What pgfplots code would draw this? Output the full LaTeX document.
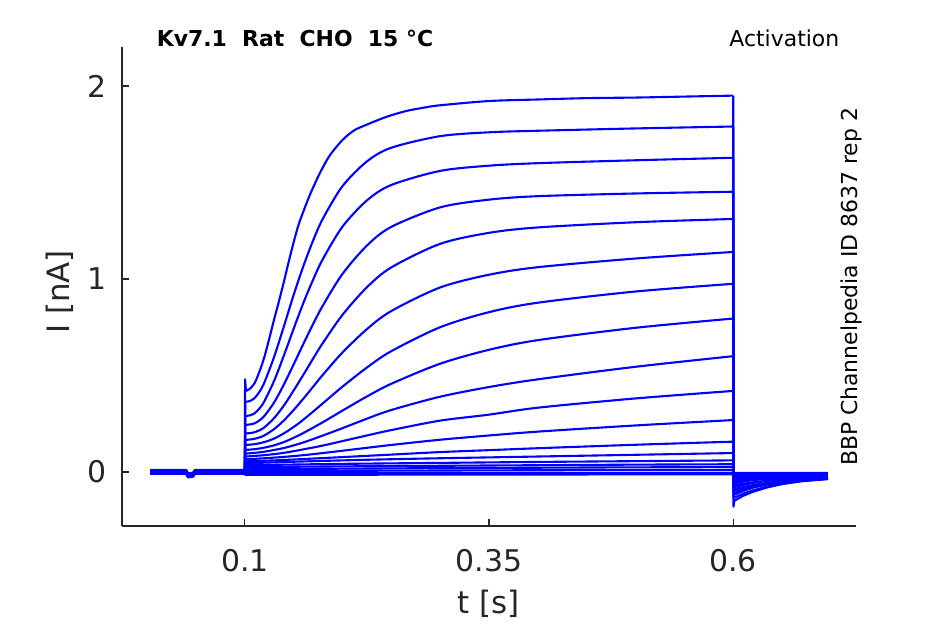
\documentclass[border=0pt]{standalone}
\usepackage{fontspec}
\setmainfont{DejaVu Sans}
\usepackage{pgfplots}
\pgfplotsset{compat=1.18}
\definecolor{axgray}{RGB}{38,38,38}
\definecolor{trblue}{RGB}{0,0,255}
\pgfplotsset{tr/.style={trblue, line width=1.05bp, line join=round, mark=none},
  trs/.style={tr, smooth, tension=0.5}}
\begin{document}
\begin{tikzpicture}
\useasboundingbox (0,0) rectangle (472.5bp,312bp);
\begin{axis}[
  at={(61bp,49bp)}, anchor=south west,
  scale only axis, width=367bp, height=239.5bp,
  xmin=-0.0257, xmax=0.7257, ymin=-0.28, ymax=2.202,
  axis x line*=bottom, axis y line*=left,
  axis line style={axgray, line width=0.6bp, -},
  tick align=inside, major tick length=3.5bp,
  tick style={axgray, line width=0.6bp},
  xtick={0.1,0.35,0.6}, xticklabels={0.1,0.35,0.6},
  ytick={0,1,2}, yticklabels={0,1,2},
  xticklabel style={font=\fontsize{15}{18}\selectfont, text=axgray, inner sep=0pt, anchor=north, yshift=-11.5bp},
  yticklabel style={font=\fontsize{15}{18}\selectfont, text=axgray, inner sep=0pt, anchor=east, xshift=-7.5bp},
  xlabel={t [s]}, ylabel={I [nA]},
  xlabel style={at={(axis description cs:0.5,-0.1618)}, anchor=center, inner sep=0pt, font=\fontsize{15.5}{18}\selectfont, text=axgray},
  ylabel style={at={(axis description cs:-0.0845,0.4885)}, anchor=center, inner sep=0pt, font=\fontsize{15.5}{18}\selectfont, text=axgray},
  clip=true,
]
% trace 1
\addplot[tr] coordinates {(0.003,0.008)(0.04,0.008)(0.042,-0.010)(0.047,-0.006)(0.049,0.008)(0.1,0.008)(0.1003,0.48)(0.1012,0.42)};
\addplot[trs] coordinates {(0.1012,0.42)(0.105,0.43)(0.11,0.46)(0.115,0.52)(0.12,0.595)(0.125,0.69)(0.13,0.79)(0.135,0.885)(0.14,0.985)(0.145,1.09)(0.15,1.19)(0.155,1.28)(0.16,1.35)(0.167,1.44)(0.177,1.55)(0.187,1.64)(0.2,1.72)(0.212,1.77)(0.225,1.80)(0.245,1.84)(0.265,1.87)(0.286,1.89)(0.3,1.90)(0.35,1.922)(0.4,1.93)(0.45,1.937)(0.5,1.94)(0.55,1.945)(0.6,1.95)};
\addplot[tr] coordinates {(0.6,1.95)(0.6003,-0.18)(0.601,-0.15)(0.61,-0.124)(0.62,-0.103)(0.635,-0.080)(0.65,-0.063)(0.67,-0.047)(0.697,-0.034)};
% trace 2
\addplot[tr] coordinates {(0.003,-0.006)(0.04,-0.006)(0.042,-0.024)(0.047,-0.020)(0.049,-0.006)(0.1,-0.006)(0.1005,0.364)};
\addplot[trs] coordinates {(0.1005,0.364)(0.105,0.367)(0.11,0.383)(0.115,0.415)(0.12,0.463)(0.13,0.596)(0.14,0.754)(0.15,0.917)(0.16,1.067)(0.17,1.200)(0.18,1.313)(0.2,1.481)(0.225,1.609)(0.25,1.680)(0.3,1.740)(0.35,1.760)(0.4,1.768)(0.5,1.780)(0.6,1.790)};
\addplot[tr] coordinates {(0.6,1.790)(0.6004,-0.135)(0.61,-0.113)(0.62,-0.096)(0.635,-0.075)(0.65,-0.061)(0.67,-0.048)(0.697,-0.037)};
% trace 3
\addplot[tr] coordinates {(0.003,0.002)(0.04,0.002)(0.042,-0.016)(0.047,-0.012)(0.049,0.002)(0.1,0.002)(0.1005,0.29)};
\addplot[trs] coordinates {(0.1005,0.29)(0.105,0.293)(0.11,0.304)(0.115,0.329)(0.12,0.366)(0.13,0.472)(0.14,0.603)(0.15,0.742)(0.16,0.876)(0.17,0.997)(0.18,1.104)(0.2,1.271)(0.225,1.407)(0.25,1.487)(0.3,1.560)(0.35,1.587)(0.4,1.600)(0.5,1.615)(0.6,1.628)};
\addplot[tr] coordinates {(0.6,1.628)(0.6004,-0.12)(0.61,-0.099)(0.62,-0.082)(0.635,-0.063)(0.65,-0.050)(0.67,-0.037)(0.697,-0.026)};
% trace 4
\addplot[tr] coordinates {(0.003,-0.01)(0.04,-0.01)(0.042,-0.028)(0.047,-0.024)(0.049,-0.01)(0.1,-0.01)(0.1005,0.244)};
\addplot[trs] coordinates {(0.1005,0.244)(0.105,0.246)(0.11,0.252)(0.115,0.267)(0.12,0.290)(0.13,0.360)(0.14,0.453)(0.15,0.557)(0.16,0.664)(0.17,0.767)(0.18,0.863)(0.2,1.026)(0.225,1.173)(0.25,1.270)(0.3,1.371)(0.35,1.411)(0.4,1.429)(0.5,1.443)(0.6,1.452)};
\addplot[tr] coordinates {(0.6,1.452)(0.6004,-0.11)(0.61,-0.093)(0.62,-0.079)(0.635,-0.064)(0.65,-0.053)(0.67,-0.043)(0.697,-0.034)};
% trace 5
\addplot[tr] coordinates {(0.003,0.005)(0.04,0.005)(0.042,-0.013)(0.047,-0.009)(0.049,0.005)(0.1,0.005)(0.1005,0.2)};
\addplot[trs] coordinates {(0.1005,0.2)(0.105,0.201)(0.11,0.206)(0.115,0.216)(0.12,0.231)(0.13,0.279)(0.14,0.344)(0.15,0.422)(0.16,0.504)(0.17,0.588)(0.18,0.669)(0.2,0.814)(0.225,0.957)(0.25,1.060)(0.3,1.182)(0.35,1.239)(0.4,1.267)(0.5,1.294)(0.6,1.311)};
\addplot[tr] coordinates {(0.6,1.311)(0.6004,-0.10)(0.61,-0.084)(0.62,-0.071)(0.635,-0.057)(0.65,-0.046)(0.67,-0.037)(0.697,-0.029)};
% trace 6
\addplot[tr] coordinates {(0.003,-0.003)(0.04,-0.003)(0.042,-0.021)(0.047,-0.017)(0.049,-0.003)(0.1,-0.003)(0.1005,0.166)};
\addplot[trs] coordinates {(0.1005,0.166)(0.105,0.168)(0.11,0.172)(0.115,0.179)(0.12,0.189)(0.13,0.222)(0.14,0.267)(0.15,0.321)(0.16,0.380)(0.17,0.442)(0.18,0.504)(0.2,0.619)(0.225,0.740)(0.25,0.834)(0.3,0.956)(0.35,1.022)(0.4,1.061)(0.5,1.106)(0.6,1.140)};
\addplot[tr] coordinates {(0.6,1.140)(0.6004,-0.09)(0.61,-0.078)(0.62,-0.068)(0.635,-0.058)(0.65,-0.050)(0.67,-0.043)(0.697,-0.036)};
% trace 7
\addplot[tr] coordinates {(0.003,0.01)(0.04,0.01)(0.042,-0.008)(0.047,-0.004)(0.049,0.01)(0.1,0.01)(0.1005,0.14)};
\addplot[trs] coordinates {(0.1005,0.14)(0.11,0.144)(0.12,0.155)(0.13,0.173)(0.14,0.200)(0.15,0.233)(0.16,0.271)(0.18,0.356)(0.2,0.442)(0.225,0.541)(0.25,0.626)(0.3,0.750)(0.35,0.828)(0.4,0.877)(0.5,0.935)(0.6,0.975)};
\addplot[tr] coordinates {(0.6,0.975)(0.6004,-0.08)(0.61,-0.067)(0.62,-0.057)(0.635,-0.045)(0.65,-0.036)(0.67,-0.029)(0.697,-0.022)};
% trace 8
\addplot[tr] coordinates {(0.003,-0.008)(0.04,-0.008)(0.042,-0.026)(0.047,-0.022)(0.049,-0.008)(0.1,-0.008)(0.1005,0.114)};
\addplot[trs] coordinates {(0.1005,0.114)(0.11,0.118)(0.12,0.126)(0.13,0.138)(0.14,0.155)(0.15,0.177)(0.16,0.202)(0.18,0.258)(0.2,0.318)(0.225,0.391)(0.25,0.457)(0.3,0.561)(0.35,0.633)(0.4,0.683)(0.5,0.747)(0.6,0.795)};
\addplot[tr] coordinates {(0.6,0.795)(0.6004,-0.07)(0.61,-0.061)(0.62,-0.054)(0.635,-0.046)(0.65,-0.040)(0.67,-0.034)(0.697,-0.030)};
% trace 9
\addplot[tr] coordinates {(0.003,0)(0.04,0)(0.042,-0.018)(0.047,-0.014)(0.049,0)(0.1,0)(0.1005,0.095)};
\addplot[trs] coordinates {(0.1005,0.095)(0.11,0.099)(0.12,0.105)(0.14,0.124)(0.16,0.153)(0.18,0.189)(0.2,0.227)(0.225,0.276)(0.25,0.321)(0.3,0.390)(0.35,0.440)(0.4,0.480)(0.5,0.545)(0.6,0.600)};
\addplot[tr] coordinates {(0.6,0.600)(0.6004,-0.06)(0.61,-0.050)(0.62,-0.042)(0.635,-0.033)(0.65,-0.026)(0.67,-0.021)(0.697,-0.015)};
% trace 10
\addplot[tr] coordinates {(0.003,0.006)(0.04,0.006)(0.042,-0.012)(0.047,-0.008)(0.049,0.006)(0.1,0.006)(0.1005,0.08)};
\addplot[trs] coordinates {(0.1005,0.08)(0.12,0.087)(0.14,0.099)(0.16,0.117)(0.18,0.137)(0.2,0.160)(0.225,0.189)(0.25,0.217)(0.3,0.266)(0.35,0.297)(0.4,0.333)(0.5,0.381)(0.6,0.42)};
\addplot[tr] coordinates {(0.6,0.42)(0.6004,-0.05)(0.61,-0.044)(0.62,-0.039)(0.635,-0.034)(0.65,-0.030)(0.67,-0.026)(0.697,-0.023)};
% trace 11
\addplot[tr] coordinates {(0.003,-0.005)(0.04,-0.005)(0.042,-0.023)(0.047,-0.019)(0.049,-0.005)(0.1,-0.005)(0.1005,0.065)};
\addplot[trs] coordinates {(0.1005,0.065)(0.12,0.071)(0.14,0.078)(0.16,0.087)(0.18,0.098)(0.2,0.110)(0.25,0.140)(0.3,0.167)(0.35,0.189)(0.4,0.209)(0.5,0.241)(0.6,0.269)};
\addplot[tr] coordinates {(0.6,0.269)(0.6004,-0.045)(0.61,-0.042)(0.62,-0.040)(0.635,-0.037)(0.65,-0.035)(0.67,-0.033)(0.697,-0.032)};
% trace 12
\addplot[tr] coordinates {(0.003,0.003)(0.04,0.003)(0.042,-0.015)(0.047,-0.011)(0.049,0.003)(0.1,0.003)(0.1005,0.055)};
\addplot[trs] coordinates {(0.1005,0.055)(0.12,0.058)(0.14,0.062)(0.16,0.067)(0.18,0.072)(0.2,0.077)(0.25,0.090)(0.3,0.103)(0.35,0.113)(0.4,0.123)(0.5,0.141)(0.6,0.157)};
\addplot[tr] coordinates {(0.6,0.157)(0.6004,-0.04)(0.61,-0.035)(0.62,-0.031)(0.635,-0.026)(0.65,-0.023)(0.67,-0.020)(0.697,-0.018)};
% trace 13
\addplot[tr] coordinates {(0.003,-0.009)(0.04,-0.009)(0.042,-0.027)(0.047,-0.023)(0.049,-0.009)(0.1,-0.009)(0.1005,0.045)};
\addplot[trs] coordinates {(0.1005,0.045)(0.15,0.053)(0.2,0.060)(0.25,0.066)(0.3,0.071)(0.4,0.080)(0.5,0.089)(0.6,0.098)};
\addplot[tr] coordinates {(0.6,0.098)(0.6004,-0.035)(0.61,-0.033)(0.62,-0.031)(0.635,-0.030)(0.65,-0.028)(0.67,-0.027)(0.697,-0.026)};
% trace 14
\addplot[tr] coordinates {(0.003,0.007)(0.04,0.007)(0.042,-0.011)(0.047,-0.007)(0.049,0.007)(0.1,0.007)(0.1005,0.035)(0.2,0.042)(0.3,0.047)(0.4,0.052)(0.5,0.056)(0.6,0.060)(0.6004,-0.03)(0.61,-0.025)(0.62,-0.021)(0.635,-0.016)(0.65,-0.013)(0.67,-0.010)(0.697,-0.008)};
% trace 15
\addplot[tr] coordinates {(0.003,-0.002)(0.04,-0.002)(0.042,-0.020)(0.047,-0.016)(0.049,-0.002)(0.1,-0.002)(0.1005,0.025)(0.2,0.029)(0.3,0.032)(0.4,0.035)(0.5,0.038)(0.6,0.040)(0.6004,-0.025)(0.61,-0.024)(0.635,-0.022)(0.67,-0.021)(0.697,-0.021)};
% trace 16
\addplot[tr] coordinates {(0.003,0.004)(0.04,0.004)(0.042,-0.014)(0.047,-0.010)(0.049,0.004)(0.1,0.004)(0.1005,0.015)(0.2,0.017)(0.3,0.020)(0.4,0.022)(0.5,0.024)(0.6,0.025)(0.6004,-0.02)(0.61,-0.022)(0.635,-0.025)(0.67,-0.028)(0.697,-0.029)};
% trace 17
\addplot[tr] coordinates {(0.003,-0.007)(0.04,-0.007)(0.042,-0.025)(0.047,-0.021)(0.049,-0.007)(0.1,-0.007)(0.1005,0.005)(0.2,0.006)(0.4,0.009)(0.6,0.010)(0.6004,-0.015)(0.635,-0.012)(0.697,-0.011)};
% trace 18
\addplot[tr] coordinates {(0.003,0.001)(0.04,0.001)(0.042,-0.017)(0.047,-0.013)(0.049,0.001)(0.1,0.001)(0.1005,-0.005)(0.6,-0.005)(0.6004,-0.01)(0.635,-0.015)(0.697,-0.019)};
% trace 19
\addplot[tr] coordinates {(0.003,-0.004)(0.04,-0.004)(0.042,-0.022)(0.047,-0.018)(0.049,-0.004)(0.1,-0.004)(0.1005,-0.015)(0.6,-0.012)(0.6004,-0.005)(0.697,-0.005)};
\end{axis}
\node[anchor=base west, inner sep=0pt, font=\fontsize{11}{13}\selectfont\bfseries, text=black] at (78.2bp,288.7bp) {Kv7.1\ \ Rat\ \ CHO\ \ 15 °C};
\node[anchor=base east, inner sep=0pt, font=\fontsize{11}{13}\selectfont, text=black] at (419.8bp,288.7bp) {Activation};
\node[rotate=90, anchor=base, inner sep=0pt, font=\fontsize{11}{13}\selectfont, text=black] at (428.5bp,168.5bp) {BBP Channelpedia ID 8637 rep 2};
\end{tikzpicture}
\end{document}
